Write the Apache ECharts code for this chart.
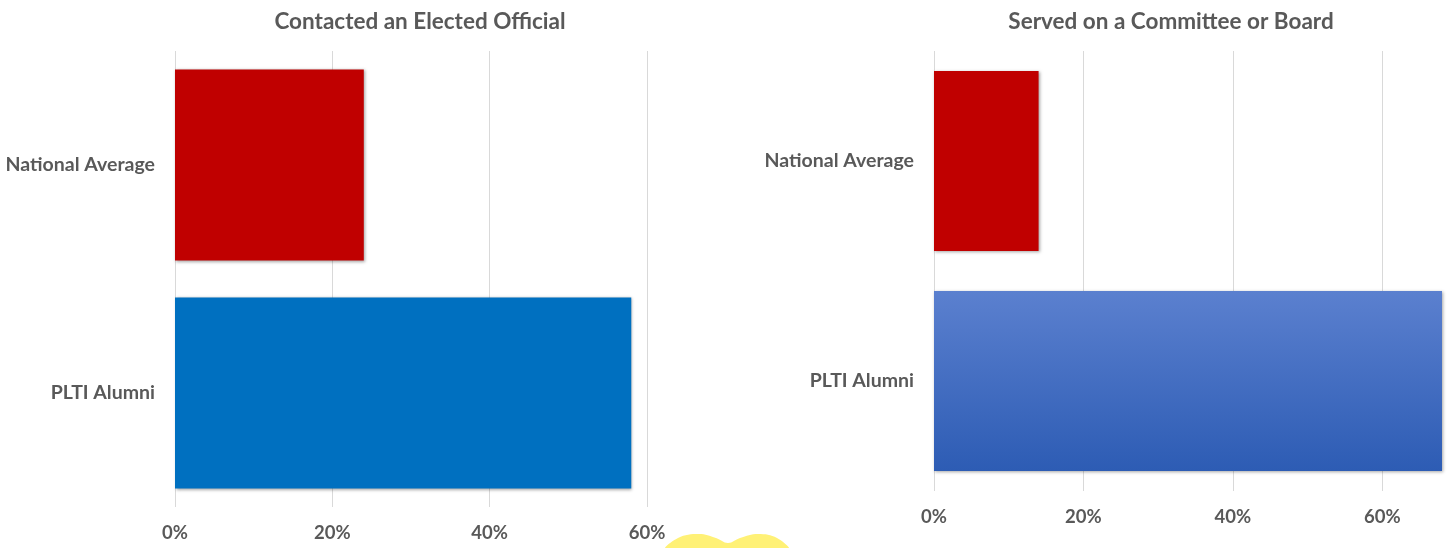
<!DOCTYPE html>
<html>
<head>
<meta charset="utf-8">
<script src="https://cdn.jsdelivr.net/npm/echarts@6/dist/echarts.min.js"></script>
<style>
  html, body { margin: 0; padding: 0; background: #fff; }
  #chart { width: 1451px; height: 548px; }
</style>
</head>
<body>
<div id="chart"></div>
<script>
// categories listed bottom -> top
const categories = ["PLTI Alumni", "National Average"]
const contactedValues = [58, 24]
const servedValues = [68, 14]
const titles = ["Contacted an Elected Official", "Served on a Committee or Board"]

const chart = echarts.init(document.getElementById("chart"), null, { renderer: "canvas" })

const FONT = "Lato, 'Open Sans', sans-serif"
const GREY = "#595959"
const barShadow = { shadowBlur: 3, shadowOffsetX: 1, shadowOffsetY: 1, shadowColor: "rgba(0,0,0,0.35)" }

const flatColors = { "National Average": "#c00000", "PLTI Alumni": "#0070c0" }
const servedColors = {
  "National Average": "#c00000",
  "PLTI Alumni": new echarts.graphic.LinearGradient(0, 0, 0, 1, [
    { offset: 0, color: "#5b80cf" },
    { offset: 1, color: "#2d5cb4" },
  ]),
}

const xAxisBase = {
  type: "value",
  min: 0,
  interval: 20,
  axisLine: { show: false },
  axisTick: { show: false },
  splitLine: { lineStyle: { color: "#d9d9d9", width: 1 } },
  axisLabel: {
    formatter: "{value}%",
    color: GREY,
    fontFamily: FONT,
    fontWeight: "bold",
    fontSize: 18.5,
    margin: 17,
  },
}

const yAxisBase = {
  type: "category",
  data: categories,
  axisLine: { show: false },
  axisTick: { show: false },
  axisLabel: {
    color: GREY,
    fontFamily: FONT,
    fontWeight: "bold",
    fontSize: 19.5,
    margin: 20,
  },
}

const titleStyle = { color: GREY, fontFamily: FONT, fontWeight: "bold", fontSize: 22.5 }

chart.setOption({
  animation: false,
  title: [
    { text: titles[0], left: 415, top: 5, textAlign: "center", textStyle: titleStyle },
    { text: titles[1], left: 1166, top: 5, textAlign: "center", textStyle: titleStyle },
  ],
  grid: [
    { left: 175, right: 804, top: 51, height: 456, outerBoundsMode: "none" },
    { left: 934, right: 9, top: 51, height: 440, outerBoundsMode: "none" },
  ],
  xAxis: [
    { ...xAxisBase, gridIndex: 0, max: 60 },
    {
      ...xAxisBase,
      gridIndex: 1,
      max: 68,
      splitLine: { ...xAxisBase.splitLine, showMaxLine: false },
      axisLabel: { ...xAxisBase.axisLabel, showMaxLabel: false },
    },
  ],
  yAxis: [
    { ...yAxisBase, gridIndex: 0 },
    { ...yAxisBase, gridIndex: 1 },
  ],
  series: [
    {
      type: "bar",
      xAxisIndex: 0,
      yAxisIndex: 0,
      barCategoryGap: "16.2%",
      data: contactedValues.map((v, i) => ({
        value: v,
        itemStyle: { color: flatColors[categories[i]], ...barShadow },
      })),
    },
    {
      type: "bar",
      xAxisIndex: 1,
      yAxisIndex: 1,
      barCategoryGap: "18.2%",
      data: servedValues.map((v, i) => ({
        value: v,
        itemStyle: { color: servedColors[categories[i]], ...barShadow },
      })),
    },
  ],
  // yellow wavy blob peeking in at the bottom edge
  graphic: [
    {
      type: "polygon",
      z: -1,
      shape: {
        smooth: 0.4,
        points: [
          [666, 550], [678, 538], [699, 534], [716, 538], [728, 543],
          [740, 538], [758, 534], [777, 538], [788, 550],
        ],
      },
      style: { fill: "#fff176" },
    },
  ],
})
</script>
</body>
</html>
